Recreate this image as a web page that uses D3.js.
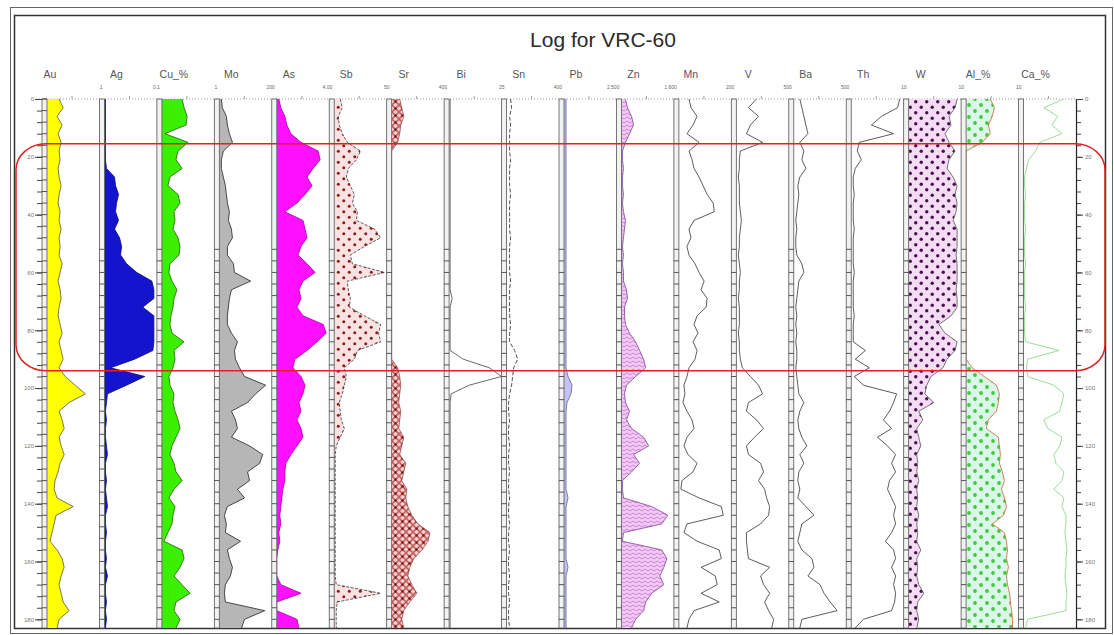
<!DOCTYPE html>
<html>
<head>
<meta charset="utf-8">
<script src="https://cdn.jsdelivr.net/npm/d3@7"></script>
<style>
body { margin: 0; background: #fff; }
svg { display: block; font-family: "Liberation Sans", Arial, sans-serif; }
</style>
</head>
<body>
<script>
// Sample depths (m)
const depths = [0,3,6,9,12,15,18,21,24,27,30,33,36,39,42,45,48,51,54,57,60,63,66,69,72,75,78,81,84,87,
  90,93,96,99,102,105,108,111,114,117,120,123,126,129,132,135,138,141,144,147,150,153,156,159,162,165,168,171,174,177,180,183];

const trackNames = ["Au","Ag","Cu_%","Mo","As","Sb","Sr","Bi","Sn","Pb","Zn","Mn","V","Ba","Th","W","Al_%","Ca_%"];
const scaleLabels = ["", "1", "0.1", "1", "200", "4.00", "50", "400", "25", "400", "2,500", "1,600", "200", "500", "500", "10", "10", "10"];
const depthTicks = [0,20,40,60,80,100,120,140,160,180];

// Values, relative scale 0-50 per track
const au = [12,16,10,15,11,14, 12,13,11,12,14,12,11,13,12,14,12,13, 12,15,13,11,13,14,12,11,13,15,12,14,16,12,
  18,28,38,22,12,15,17,12,14,17,13,11,8,7,10,26,9,7, 5,3,10,15,17,14,12,14,16,22,12,10];
const ag = [1,1,1,1,1,1,1,1,2, 10,11,14,12,11,14,10,15,17,16,22,32,47,49,49,38,49,49,49,49,48,30,6,40,22,3,
  2,1,2,1,1,2,3,1,1,2,1,2,3,1,1,2,1,1,2,1,3,1,1,2,1,2,1];
const cu = [20,22,25,24,3,26, 16,14,20,8,6,16,18,12,13,11, 16,18,17,8,7,10,15,12,11,9, 8,10,22,12,13,11,7,8,12,11,
  13,16,18,14,10,8,12,14,20,12, 7,13,11,10,6,2,20,22,18,12, 20,28,14,12,18,14];
const mo = [2,3,7,8,10,13, 4,2,2,4,6,7,8,10,9,12, 13,8,8,14,15,31,12,10,9,8, 8,12,18,15,16,20,25,46,36,28,
  12,16,18,12,30,43,40,28,30,18, 25,8,5,7,6,21,8,10,13,11, 6,5,6,45,25,22];
const as = [2,4,8,10,14,24, 41,43,36,30,35,28,20,8,26,28, 30,24,21,30,38,26,22,24,20,26, 46,49,40,30,18,16,24,28,26,22,
  24,20,24,26,20,14,9,8,8,6, 5,4,3,4,2,3,1,0,0,0, 4,24,0,0,20,22];
const sb = [6,8,4,5,8,13, 26,22,14,12,16,20,18,23,22,40, 46,30,16,18,50,13,14,16,15,30, 46,44,46,23,20,10,12,10,8,5,
  6,7,10,6,2,1,1,1,1,1, 1,1,1,1,1,1,1,1,1,1, 2,46,3,2,2,2];
const sr = [8,10,12,9,8,6, 0,0,0,0,0,0,0,0,0,0,0,0,0,0,0,0,0,0,0,0,0,0,0,0,0,
  6,8,9,8,7,9,8,7,12,10,8,14,12,10,15,14,16,20,26,38,36,30,22,18,16,20,25,18,12,10,12];
const bi = [1,1,1,1,1,1,1,1,1,1,1,1,1,1,1,1,1,1,1,1,1,1,1,3,1,1,1,1,1,1,14,40,52,20,2,
  1,1,1,1,1,1,1,1,1,1,1,1,1,1,1,1,1,1,1,1,1,1,1,1,1,1,1];
const sn = [4,5,3,4,3,3,3,4,3,3,3,4,3,3,3,3,4,3,3,3,3,4,3,3,3,3,4,3,3, 8,11,7,6,5,
  3,2,2,3,2,2,3,2,2,3,2,2,3,2,2,3,2,2,3,2,2,3,2,2,3,2,2,3];
const pb = [2,2,2,2,2,2,2,2,2,2,2,2,2,2,2,2,2,2,2,2,2,2,2,2,2,2,2,2,2,2,2,2, 4,8,7,3,
  2,2,2,2,2,2,2,2,2,2, 4, 2,2,2,2,2,2,2, 4, 2,2,2,2,2,2,2];
const zn = [4,6,10,12,8,4, 1,1,2,1,1,2,1,2,4,3, 2,1,2,1,2,2,5,6,3,3, 4,8,14,18,22,24,14,5,3,4,
  8,5,10,22,27,12,18,10,1,1, 2,30,46,40,2,1,40,45,42,38, 42,30,24,22,14,10];
const mn = [10,12,18,14,8,20, 10,13,15,20,24,28,34,35,15,10, 12,8,10,16,20,25,22,28,27,18, 15,19,14,18,16,10,8,5,6,4,
  8,13,15,8,5,9,18,14,3,2, 20,42,44,8,5,18,40,42,22,36, 38,22,40,15,10,8];
const v = [20,12,22,14,10,26, 4,3,3,2,3,3,3,4,5,4, 3,3,2,3,4,3,3,2,3,3, 3,2,3,3,4,6,14,22,26,12,
  10,20,27,18,10,12,24,27,22,28, 30,33,32,24,10,10,11,12,33,24, 27,33,28,32,37,35];
const ba = [6,8,10,12,14,6, 10,8,12,6,4,5,4,3,2,3, 2,2,3,8,10,5,4,3,2,3, 2,3,2,3,3,2,3,4,5,10,
  6,4,5,8,13,6,10,5,4,6, 4,12,20,8,6,4,8,18,20,14, 26,30,36,43,8,6];
const th = [48,46,30,20,42,8, 6,10,4,2,2,3,2,2,2,3, 2,2,2,2,3,2,2,2,2,3, 2,2,2,14,4,18,3,12,45,42,
  38,32,40,26,36,44,40,44,38,36, 40,44,42,44,40,34,42,44,40,44, 42,44,43,40,12,4];
const w = [48,46,40,42,36,40, 46,40,38,44,48,46,48,47,44,48, 48,48,47,48,48,48,47,48,48,42, 30,36,48,46,38,34,22,18,16,25,
  10,14,8,10,12,8,9,8,10,8, 9,8,10,8,9,8,12,8,9,8, 10,15,9,8,10,8];
const al = [24,28,26,22,24,16, 0,0,0,0,0,0,0,0,0,0,0,0,0,0,0,0,0,0,0,0,0,0,0,0,0,
  6,18,30,33,32,30,22,20,32,33,34,33,36,38,35,38,40,37,26,38,40,41,40,42,40,41,43,44,45,46,46];
const ca = [40,20,34,28,38,16, 12,5,3, 1,1,2,1,1,1,2,1,1,1,2,1,1,1,1,2,1,1,1,2,
  35,4,3,4,30,40, 38,36,20,24,38,36,30,32,40,38,30,40,38,42, 42,41,42,43,42,42,41,42,43,42,42, 4,2];

const series = [
  { values: au, kind: "area", fill: "#ffff00", stroke: "#555" },
  { values: ag, kind: "area", fill: "#1414cc", stroke: "#0a0a70" },
  { values: cu, kind: "area", fill: "#3cee00", stroke: "#2a5a10" },
  { values: mo, kind: "area", fill: "#b6b6b6", stroke: "#222" },
  { values: as, kind: "area", fill: "#ff10ff", stroke: "#a000a0" },
  { values: sb, kind: "area", fill: "url(#pSb)", stroke: "#333", dash: "3,1.5" },
  { values: sr, kind: "area", fill: "url(#pSr)", stroke: "#a05050" },
  { values: bi, kind: "line", stroke: "#444" },
  { values: sn, kind: "line", stroke: "#222", dash: "4,2" },
  { values: pb, kind: "area", fill: "#c4c4f4", stroke: "#6060a0" },
  { values: zn, kind: "area", fill: "url(#pZn)", stroke: "#8040a0" },
  { values: mn, kind: "line", stroke: "#333" },
  { values: v, kind: "line", stroke: "#333" },
  { values: ba, kind: "line", stroke: "#333" },
  { values: th, kind: "line", stroke: "#333" },
  { values: w, kind: "area", fill: "url(#pW)", stroke: "#555" },
  { values: al, kind: "area", fill: "url(#pAl)", stroke: "#c86430" },
  { values: ca, kind: "line", stroke: "#7ed67e" }
];

const svg = d3.select("body").append("svg")
    .attr("width", 1114)
    .attr("height", 635);

// Patterns
const defs = svg.append("defs");
function dots(id, size, bg, dot, r) {
  const p = defs.append("pattern").attr("id", id).attr("width", size).attr("height", size)
      .attr("patternUnits", "userSpaceOnUse");
  p.append("rect").attr("width", size).attr("height", size).attr("fill", bg);
  p.append("circle").attr("cx", size / 4).attr("cy", size / 4).attr("r", r).attr("fill", dot);
  p.append("circle").attr("cx", size * 3 / 4).attr("cy", size * 3 / 4).attr("r", r).attr("fill", dot);
}
dots("pSb", 11, "#fbe2e2", "#8b1c1c", 1.5);
dots("pW", 11, "#f5dcf5", "#4a1050", 1.7);
dots("pAl", 12, "#dcf7ea", "#3ccc3c", 1.9);
const pSr = defs.append("pattern").attr("id", "pSr").attr("width", 7).attr("height", 7)
    .attr("patternUnits", "userSpaceOnUse");
pSr.append("rect").attr("width", 7).attr("height", 7).attr("fill", "#f4d2d2");
pSr.append("path").attr("d", "M0,0L7,7M7,0L0,7").attr("stroke", "#c46262").attr("stroke-width", 1.6);
pSr.append("circle").attr("cx", 3.5).attr("cy", 3.5).attr("r", 1.2).attr("fill", "#7a1616");
const pZn = defs.append("pattern").attr("id", "pZn").attr("width", 6).attr("height", 4)
    .attr("patternUnits", "userSpaceOnUse");
pZn.append("rect").attr("width", 6).attr("height", 4).attr("fill", "#f6c8f6");
pZn.append("path").attr("d", "M0,3L3,1L6,3").attr("fill", "none").attr("stroke", "#a060b8").attr("stroke-width", 0.6);

// Frame
svg.append("rect").attr("x", 10.5).attr("y", 7.5).attr("width", 1102).attr("height", 626)
    .attr("fill", "none").attr("stroke", "#666").attr("stroke-width", 1);
svg.append("rect").attr("x", 14.5).attr("y", 15.5).attr("width", 1091).attr("height", 613)
    .attr("fill", "none").attr("stroke", "#333").attr("stroke-width", 1.5);

// Title
svg.append("text")
    .attr("x", 603).attr("y", 47)
    .attr("text-anchor", "middle")
    .attr("font-size", "21px")
    .attr("fill", "#2a2a2a")
    .text("Log for VRC-60");

// Scales
const y = d3.scaleLinear().domain([0, 183]).range([99, 628]);
const track = d3.scaleLinear().domain([0, 18]).range([42, 1076]);
const rulerW = 5;

// Dotted scale line at the top
svg.append("line")
    .attr("x1", 36).attr("x2", track(18)).attr("y1", y(0)).attr("y2", y(0))
    .attr("stroke", "#999").attr("stroke-dasharray", "1,2");

const minorTicks = d3.range(0, 184, 4);

trackNames.forEach(function(name, i) {
  const xl = track(i);
  const xs = d3.scaleLinear().domain([0, 50]).range([xl + rulerW, track(i + 1) - 2]);
  const g = svg.append("g");
  const s = series[i];

  // header
  g.append("text")
      .attr("x", xl + (i === 0 ? 8 : 17)).attr("y", 78)
      .attr("text-anchor", "middle")
      .attr("font-size", "10.5px")
      .attr("fill", "#555")
      .text(name);
  g.append("text")
      .attr("x", xl + 3).attr("y", 89)
      .attr("text-anchor", "end")
      .attr("font-size", "5px")
      .attr("fill", "#666")
      .text(scaleLabels[i]);
  g.append("line")
      .attr("x1", xl + 30).attr("x2", xl + 30).attr("y1", y(0) - 3).attr("y2", y(0))
      .attr("stroke", "#888").attr("stroke-width", 0.8);

  // data
  if (s.kind === "area") {
    const area = d3.area()
        .y(function(d, k) { return y(depths[k]); })
        .x0(xs(0))
        .x1(function(d) { return xs(d); });
    g.append("path").datum(s.values)
        .attr("d", area)
        .attr("fill", s.fill);
  }
  const line = d3.line()
      .y(function(d, k) { return y(depths[k]); })
      .x(function(d) { return xs(d); });
  g.append("path").datum(s.values)
      .attr("d", line)
      .attr("fill", "none")
      .attr("stroke", s.stroke)
      .attr("stroke-width", 0.8)
      .attr("stroke-dasharray", s.dash || null);

  // ruler
  g.append("rect")
      .attr("x", xl).attr("y", y(0))
      .attr("width", rulerW).attr("height", y(183) - y(0))
      .attr("fill", "#f2f2f2")
      .attr("stroke", "#555").attr("stroke-width", 0.8);
  g.selectAll(".rt").data(minorTicks.filter(function(d) { return i === 0 || d >= 52; }))
    .join("line")
      .attr("x1", xl).attr("x2", xl + rulerW)
      .attr("y1", function(d) { return y(d); }).attr("y2", function(d) { return y(d); })
      .attr("stroke", "#444").attr("stroke-width", 0.9);
});

// Depth axes
const leftMinor = svg.append("g").attr("transform", "translate(" + track(0) + ",0)")
    .call(d3.axisLeft(y).tickValues(minorTicks).tickSize(5).tickFormat(""));
const leftMajor = svg.append("g").attr("transform", "translate(" + track(0) + ",0)")
    .call(d3.axisLeft(y).tickValues(depthTicks).tickSize(7).tickPadding(1));
const rightMinor = svg.append("g").attr("transform", "translate(" + track(18) + ",0)")
    .call(d3.axisRight(y).tickValues(minorTicks).tickSize(5).tickFormat(""));
const rightMajor = svg.append("g").attr("transform", "translate(" + track(18) + ",0)")
    .call(d3.axisRight(y).tickValues(depthTicks).tickSize(7).tickPadding(2));
[leftMinor, leftMajor, rightMinor, rightMajor].forEach(function(a) {
  a.selectAll("line").attr("stroke", "#444");
  a.selectAll("text").attr("font-size", "6px").attr("fill", "#777")
      .attr("font-family", "Liberation Sans, Arial, sans-serif");
});
[leftMinor, leftMajor].forEach(function(a) { a.select(".domain").remove(); });
rightMajor.select(".domain").attr("stroke", "#222").attr("stroke-width", 1.2);

// Highlighted interval
svg.append("rect")
    .attr("x", 16).attr("y", y(15.5))
    .attr("width", 1089).attr("height", y(94) - y(15.5))
    .attr("rx", 30).attr("ry", 26)
    .attr("fill", "none")
    .attr("stroke", "#e32020")
    .attr("stroke-width", 1.5);
</script>
</body>
</html>
